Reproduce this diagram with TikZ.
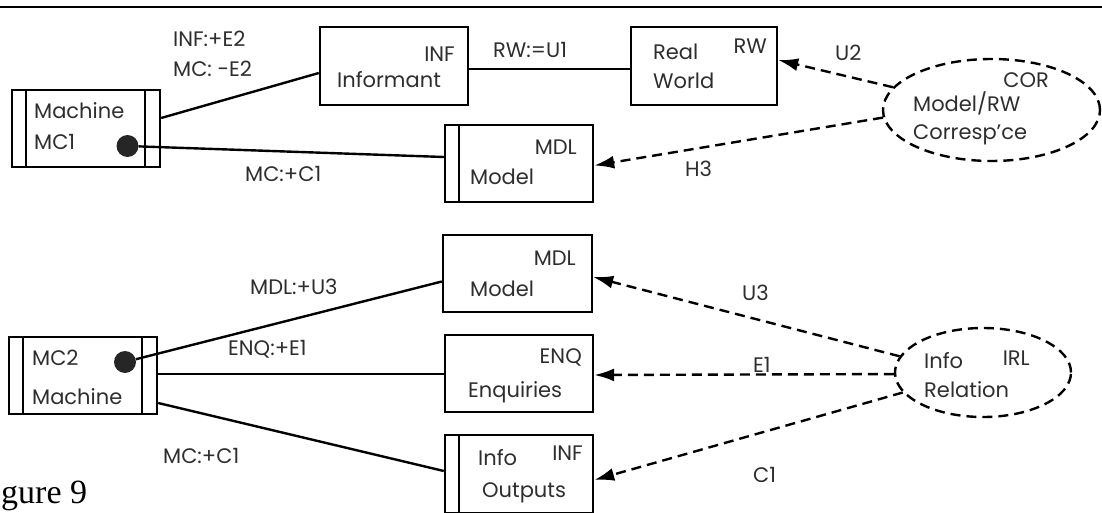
\documentclass[tikz,border=0pt]{standalone}
\usepackage{fontspec}
\setsansfont{Poppins}
\newfontfamily\capfont{Liberation Serif}
\usepackage{tikz}
\usetikzlibrary{arrows.meta, positioning, shapes.geometric, calc}
\definecolor{inkgray}{HTML}{2E2E2E}

\tikzset{
  box/.style={draw, line width=2.4pt, minimum width=148pt, minimum height=77pt, inner sep=0pt},
  barleft/.style={path picture={
    \draw[line width=2.4pt] ([xshift=14pt]path picture bounding box.north west) -- ([xshift=14pt]path picture bounding box.south west);}},
  machine/.style={box, path picture={
    \draw[line width=2.4pt] ([xshift=14pt]path picture bounding box.north west) -- ([xshift=14pt]path picture bounding box.south west);
    \draw[line width=2.4pt] ([xshift=-15pt]path picture bounding box.north east) -- ([xshift=-15pt]path picture bounding box.south east);}},
  role/.style={draw, ellipse, line width=2.4pt, dash pattern=on 10pt off 6pt, inner sep=0pt},
  dot/.style={circle, fill=black!85, minimum size=22pt, inner sep=0pt},
  lbl/.style={font=\sffamily\fontsize{21}{25}\selectfont, text=inkgray, inner sep=0pt},
  flow/.style={line width=2.4pt},
  req/.style={line width=2.4pt, dash pattern=on 10pt off 6pt, -{Latex[length=20pt,width=13pt]}}
}

\begin{document}
\begin{tikzpicture}[x=1pt, y=-1pt]
  \useasboundingbox (0,0) rectangle (1102,513);

  % Frame rule
  \draw[line width=2pt] (0,7) -- (1102,7);

  % Upper part: machine MC1
  \node[machine] (mc1) at (86,128.5) {};
  \node[lbl, anchor=base west] (mc1name) at (34,119) {Machine};
  \node[lbl, anchor=base west] (mc1tag) at (34,150) {MC1};
  \node[dot] (dot1) at (127.5,146) {};

  % Informant and real world
  \node[box, minimum height=78pt] (inf) at (394,66) {};
  \node[lbl, anchor=base east] (inftag) at (455,62) {INF};
  \node[lbl, anchor=base west] (infname) at (337,88) {Informant};

  \node[box, minimum width=146pt, minimum height=78pt] (rw) at (704,66) {};
  \node[lbl, anchor=base east] (rwtag) at (767,54) {RW};
  \node[lbl, anchor=base west] (rwname1) at (653,60) {Real};
  \node[lbl, anchor=base west] (rwname2) at (653,89) {World};

  % Model
  \node[box, barleft] (mdl1) at (519,163.5) {};
  \node[lbl, anchor=base east] (mdl1tag) at (577,155) {MDL};
  \node[lbl, anchor=base west] (mdl1name) at (470,185) {Model};

  % Correspondence
  \node[role, minimum width=217pt, minimum height=102pt] (cor) at (991.5,110) {};
  \node[lbl, anchor=base east] (cortag) at (1049,88) {COR};
  \node[lbl, anchor=base west] (corname1) at (913,112) {Model/RW};
  \node[lbl, anchor=base west] (corname2) at (913,140) {Corresp'ce};

  % Upper connectors
  \draw[flow] ([yshift=10.5pt]mc1.east) -- ([yshift=-7pt]inf.west);
  \draw[flow] (dot1) -- ([yshift=6.5pt]mdl1.west);
  \draw[flow] ([yshift=-3pt]inf.east) -- ([yshift=-3pt]rw.west);
  \draw[req] (cor.167.4) -- ([yshift=6pt]rw.east);
  \draw[req] (cor.184.3) -- ([yshift=-2pt]mdl1.east);

  % Upper labels
  \node[lbl, anchor=base west] (e2a) at (173,47) {INF:+E2};
  \node[lbl, anchor=base west] (e2b) at (173,77) {MC: -E2};
  \node[lbl, anchor=base west] (u1) at (493,58) {RW:=U1};
  \node[lbl, anchor=base west] (u2) at (835,61) {U2};
  \node[lbl, anchor=base west] (h3) at (685,177) {H3};
  \node[lbl, anchor=base west] (c1a) at (245,182) {MC:+C1};

  % Lower part: machine MC2
  \node[machine] (mc2) at (83,375.5) {};
  \node[lbl, anchor=base west] (mc2tag) at (32,365) {MC2};
  \node[lbl, anchor=base west] (mc2name) at (32,404) {Machine};
  \node[dot] (dot2) at (125,362) {};

  % Model, enquiries, outputs
  \node[box, minimum width=149pt] (mdl2) at (517.5,273.5) {};
  \node[lbl, anchor=base east] (mdl2tag) at (576,265) {MDL};
  \node[lbl, anchor=base west] (mdl2name) at (470,296) {Model};

  \node[box] (enq) at (519,373.5) {};
  \node[lbl, anchor=base east] (enqtag) at (582,363) {ENQ};
  \node[lbl, anchor=base west] (enqname) at (468,397) {Enquiries};

  \node[box, barleft, minimum height=78pt] (out) at (519,474) {};
  \node[lbl, anchor=base west] (outname1) at (478,465) {Info};
  \node[lbl, anchor=base east] (outtag) at (583,460) {INF};
  \node[lbl, anchor=base west] (outname2) at (482,497) {Outputs};

  % Information relation
  \node[role, minimum width=176pt, minimum height=89pt] (irl) at (983,372.5) {};
  \node[lbl, anchor=base west] (irlname1) at (924,368) {Info};
  \node[lbl, anchor=base east] (irltag) at (1030,365) {IRL};
  \node[lbl, anchor=base west] (irlname2) at (924,397) {Relation};

  % Lower connectors
  \draw[flow] (dot2) -- ([yshift=-8pt]mdl2.west);
  \draw[flow] ([yshift=1.5pt]mc2.east) -- ([yshift=-0.5pt]enq.west);
  \draw[flow] ([yshift=-27.5pt]mc2.east) -- ([yshift=3pt]out.west);
  \draw[req] (irl.169.7) -- ([yshift=-3.5pt]mdl2.east);
  \draw[req] (irl.181) -- ([yshift=-1.5pt]enq.east);
  \draw[req] (irl.194.4) -- ([yshift=-6pt]out.east);

  % Lower labels
  \node[lbl, anchor=base west] (u3a) at (250,294) {MDL:+U3};
  \node[lbl, anchor=base west] (e1a) at (228,355) {ENQ:+E1};
  \node[lbl, anchor=base west] (c1b) at (163,463) {MC:+C1};
  \node[lbl, anchor=base west] (u3b) at (742,300) {U3};
  \node[lbl, anchor=base west] (e1b) at (753,372) {E1};
  \node[lbl, anchor=base west] (c1c) at (753,482) {C1};

  % Caption fragment
  \node[anchor=base west, font=\capfont\fontsize{34}{36}\selectfont, inner sep=0pt] (caption) at (1,503) {gure 9};
\end{tikzpicture}
\end{document}
